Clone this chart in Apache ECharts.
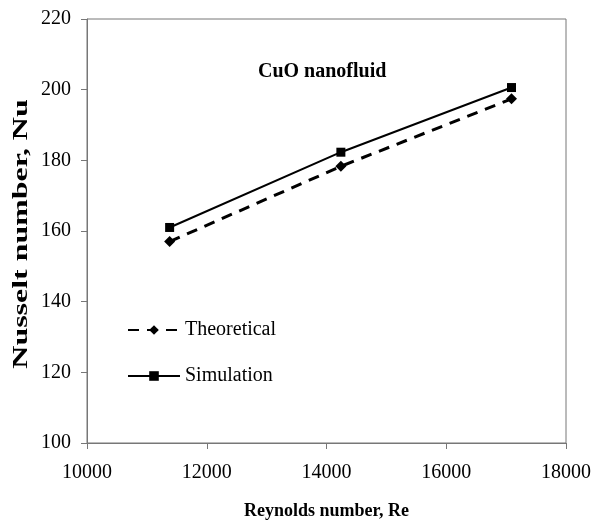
<!DOCTYPE html>
<html>
<head>
<meta charset="utf-8">
<script src="https://cdn.jsdelivr.net/npm/echarts@6/dist/echarts.min.js"></script>
<style>
html,body{margin:0;padding:0;background:#fff;}
#chart{width:602px;height:526px;}
</style>
</head>
<body>
<div id="chart"></div>
<script>
// Reynolds number values and Nusselt numbers
var reynolds = [11380, 14240, 17090];
var theoretical = [157.0, 178.3, 197.4];
var simulation = [161.0, 182.3, 200.6];

var serif = '"Liberation Serif", "Times New Roman", serif';

function pairs(xs, ys){
	var out = [];
	for (var i = 0; i < xs.length; i++) out.push([xs[i], ys[i]]);
	return out;
}

var option = {
	backgroundColor: '#fff',
	animation: false,
	title: {
		text: 'CuO nanofluid',
		left: 253,
		top: 57,
		textStyle: {fontFamily: serif, fontSize: 20, fontWeight: 'bold', color: '#000'}
	},
	legend: {
		orient: 'vertical',
		left: 122,
		top: 315,
		itemWidth: 52,
		itemHeight: 12,
		itemGap: 26,
		textStyle: {fontFamily: serif, fontSize: 20, color: '#000'},
		data: ['Theoretical', 'Simulation']
	},
	grid: {
		left: 87, top: 19, right: 36, bottom: 83,
		show: true, borderColor: '#777', borderWidth: 1
	},
	// y axis title, stretched along its length as in the original figure
	graphic: [{
		type: 'text',
		x: 22,
		y: 234,
		rotation: Math.PI / 2,
		scaleX: 1.52,
		style: {
			text: 'Nusselt number, Nu',
			font: 'bold 21px ' + serif,
			fill: '#000',
			align: 'center',
			verticalAlign: 'middle'
		}
	}],
	xAxis: {
		type: 'value',
		min: 10000, max: 18000, interval: 2000,
		name: 'Reynolds number, Re',
		nameLocation: 'middle',
		nameGap: 59,
		nameTextStyle: {fontFamily: serif, fontSize: 18, fontWeight: 'bold', color: '#000'},
		axisLine: {lineStyle: {color: '#777', width: 1}},
		axisTick: {show: true, length: 6, lineStyle: {color: '#777'}},
		axisLabel: {fontFamily: serif, fontSize: 20, color: '#000', margin: 20,
			formatter: function(v){ return String(v); }},
		splitLine: {show: false}
	},
	yAxis: {
		type: 'value',
		min: 100, max: 220, interval: 20,
		axisLine: {show: true, lineStyle: {color: '#777', width: 1}},
		axisTick: {show: true, length: 6, lineStyle: {color: '#777'}},
		axisLabel: {fontFamily: serif, fontSize: 20, color: '#000', margin: 16},
		splitLine: {show: false}
	},
	series: [
		{
			name: 'Theoretical',
			type: 'line',
			data: pairs(reynolds, theoretical),
			symbol: 'diamond',
			symbolSize: 11,
			itemStyle: {color: '#000'},
			lineStyle: {color: '#000', width: 3, type: [11, 8]}
		},
		{
			name: 'Simulation',
			type: 'line',
			data: pairs(reynolds, simulation),
			symbol: 'rect',
			symbolSize: 9,
			itemStyle: {color: '#000'},
			lineStyle: {color: '#000', width: 2}
		}
	]
};

var myChart = echarts.init(document.getElementById('chart'));
myChart.setOption(option);
</script>
</body>
</html>
